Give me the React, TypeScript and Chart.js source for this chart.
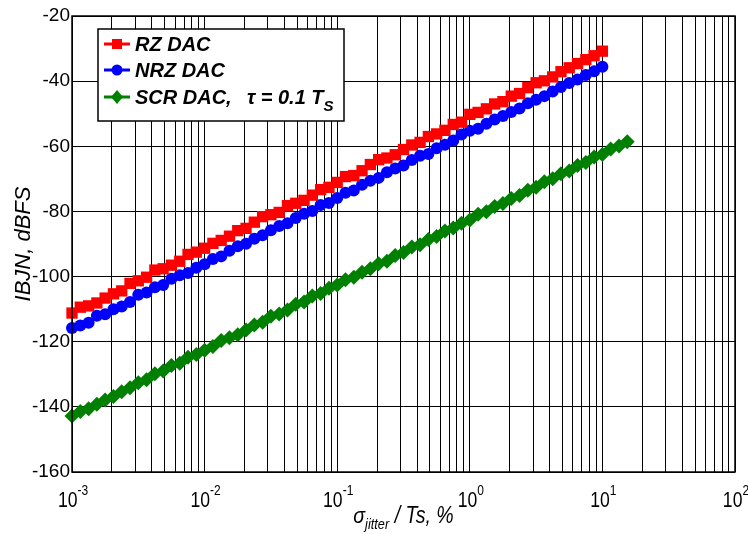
import React, { useEffect, useRef } from 'react';
import { Chart, registerables } from 'chart.js';

Chart.register(...registerables);

// sigma_jitter / Ts, % (sample grid shared by all curves)
const xGrid = [
  0.001, 0.001155, 0.001334, 0.00154, 0.001778, 0.002054, 0.002371, 0.002738,
  0.003162, 0.003652, 0.004217, 0.00487, 0.005623, 0.006494, 0.007499, 0.00866,
  0.01, 0.01155, 0.01334, 0.0154, 0.01778, 0.02054, 0.02371, 0.02738,
  0.03162, 0.03652, 0.04217, 0.0487, 0.05623, 0.06494, 0.07499, 0.0866,
  0.1, 0.1155, 0.1334, 0.154, 0.1778, 0.2054, 0.2371, 0.2738,
  0.3162, 0.3652, 0.4217, 0.487, 0.5623, 0.6494, 0.7499, 0.866,
  1, 1.155, 1.334, 1.54, 1.778, 2.054, 2.371, 2.738,
  3.162, 3.652, 4.217, 4.87, 5.623, 6.494, 7.499, 8.66,
  10, 11.55, 13.34, 15.4,
];

// IBJN, dBFS
const rzDb = [
  -111.2, -109.4, -109.0, -108.1, -106.6, -105.3, -104.4, -102.1,
  -101.3, -100.2, -98.0, -97.6, -96.5, -95.3, -93.2, -92.5,
  -91.3, -89.8, -88.9, -87.6, -85.9, -85.2, -83.3, -81.6,
  -81.0, -80.3, -78.2, -77.5, -76.6, -75.0, -73.3, -72.6,
  -71.1, -69.3, -69.0, -67.5, -65.6, -64.1, -63.6, -62.6,
  -61.0, -59.6, -58.8, -57.0, -56.2, -55.1, -53.3, -52.6,
  -50.2, -49.6, -48.5, -47.0, -46.3, -44.6, -43.8, -42.0,
  -40.5, -39.9, -38.7, -37.1, -35.9, -34.6, -33.4, -32.2,
  -30.8,
];

const nrzDb = [
  -115.8, -115.0, -114.2, -112.0, -111.6, -110.0, -109.2, -107.8,
  -105.6, -104.9, -103.3, -102.6, -100.7, -99.6, -98.9, -97.3,
  -96.2, -94.6, -93.8, -92.1, -90.7, -89.9, -88.4, -87.3,
  -85.8, -84.5, -83.6, -82.0, -80.7, -79.9, -78.0, -77.4,
  -75.9, -74.3, -73.6, -71.8, -70.6, -69.7, -68.0, -66.8,
  -65.9, -64.2, -62.9, -62.4, -60.6, -59.5, -58.2, -56.4,
  -55.2, -54.6, -53.1, -51.8, -50.7, -49.5, -48.4, -46.8,
  -45.7, -44.6, -43.2, -41.8, -40.6, -39.5, -38.1, -37.0,
  -35.6,
];

const scrDb = [
  -142.8, -141.4, -140.6, -139.2, -137.9, -136.8, -135.4, -134.1,
  -132.6, -131.7, -129.8, -129.0, -127.3, -126.6, -124.8, -123.9,
  -122.6, -121.5, -119.6, -118.8, -117.9, -116.4, -114.9, -114.0,
  -112.2, -111.5, -110.3, -108.5, -107.8, -106.0, -105.2, -103.6,
  -102.6, -101.0, -100.2, -98.7, -97.6, -96.1, -95.3, -93.5,
  -92.6, -90.9, -90.2, -88.6, -87.7, -86.0, -85.1, -83.6,
  -82.6, -80.9, -80.1, -78.5, -77.6, -76.0, -75.1, -73.5,
  -72.6, -70.9, -70.0, -68.4, -67.6, -65.9, -65.0, -63.3,
  -62.5, -60.8, -59.9, -58.6,
];

const xDecades = [-3, -2, -1, 0, 1, 2];
const xMinor = [1, 2, 3, 4, 5, 6, 7, 8, 9];
const yTicks = [-160, -140, -120, -100, -80, -60, -40, -20];
const seriesNames = ['RZ DAC', 'NRZ DAC', 'SCR DAC,'];
const seriesColors = ['#ff0000', '#0000ff', '#008000'];

const FONT = '"Liberation Sans", Arial, sans-serif';

function drawText(ctx: CanvasRenderingContext2D, s: string, x: number, y: number, font: string, sx = 1) {
  ctx.save();
  ctx.font = font;
  ctx.translate(x, y);
  ctx.scale(sx, 1);
  ctx.textAlign = 'left';
  ctx.textBaseline = 'alphabetic';
  ctx.fillText(s, 0, 0);
  ctx.restore();
}
function textW(ctx: CanvasRenderingContext2D, s: string, font: string, sx = 1) {
  ctx.save();
  ctx.font = font;
  const w = ctx.measureText(s).width * sx;
  ctx.restore();
  return w;
}

function drawMarker(ctx: CanvasRenderingContext2D, kind: number, x: number, y: number, color: string) {
  ctx.fillStyle = color;
  ctx.beginPath();
  if (kind === 0) {
    ctx.rect(x - 5, y - 5, 10, 10);
  } else if (kind === 1) {
    ctx.arc(x, y, 5.5, 0, Math.PI * 2);
  } else {
    ctx.moveTo(x, y - 7);
    ctx.lineTo(x + 6, y);
    ctx.lineTo(x, y + 7);
    ctx.lineTo(x - 6, y);
    ctx.closePath();
  }
  ctx.fill();
}

const overlay = {
  id: 'overlay',
  afterDraw(chart: any) {
    const ctx: CanvasRenderingContext2D = chart.ctx;
    const a = chart.chartArea;
    const xs = chart.scales.x;
    ctx.save();
    // axes box
    ctx.strokeStyle = '#000';
    ctx.lineWidth = 1.5;
    ctx.strokeRect(a.left, a.top, a.right - a.left, a.bottom - a.top);

    ctx.fillStyle = '#000';
    // x tick labels 10^n
    const baseFont = `22px ${FONT}`;
    const expFont = `15px ${FONT}`;
    const sx = 0.8;
    for (const e of xDecades) {
      const px = xs.getPixelForValue(Math.pow(10, e));
      const es = String(e);
      const wb = textW(ctx, '10', baseFont, sx);
      const we = textW(ctx, es, expFont, sx);
      const x0 = px - (wb + we) / 2 + 1;
      drawText(ctx, '10', x0, a.bottom + 35, baseFont, sx);
      drawText(ctx, es, x0 + wb, a.bottom + 23, expFont, sx);
    }

    // x title: sigma_jitter / Ts, %
    const tFont = `italic 23px ${FONT}`;
    const tsFont = `italic 15px ${FONT}`;
    const tsx = 0.85;
    const p1 = '\u03C3';
    const p2 = 'jitter';
    const p3 = ' / Ts, %';
    const w1 = textW(ctx, p1, tFont, tsx);
    const w2 = textW(ctx, p2, tsFont, tsx);
    const w3 = textW(ctx, p3, tFont, tsx);
    const cx = (a.left + a.right) / 2;
    let tx = cx - (w1 + w2 + w3) / 2;
    const ty = a.bottom + 51;
    drawText(ctx, p1, tx, ty, tFont, tsx);
    tx += w1;
    drawText(ctx, p2, tx, ty + 6, tsFont, tsx);
    tx += w2;
    drawText(ctx, p3, tx, ty, tFont, tsx);

    // y title
    ctx.save();
    ctx.translate(30, (a.top + a.bottom) / 2);
    ctx.rotate(-Math.PI / 2);
    ctx.font = `italic 22px ${FONT}`;
    ctx.textAlign = 'center';
    ctx.fillText('IBJN, dBFS', 0, 0);
    ctx.restore();

    // legend
    const lx = 98, ly = 29, lw = 246, lh = 92;
    ctx.fillStyle = '#fff';
    ctx.fillRect(lx, ly, lw, lh);
    ctx.strokeStyle = '#000';
    ctx.lineWidth = 1.5;
    ctx.strokeRect(lx, ly, lw, lh);
    const rows = [44, 70, 97];
    const lFont = `italic bold 20px ${FONT}`;
    const lsFont = `italic bold 15px ${FONT}`;
    for (let i = 0; i < 3; i++) {
      const ry = rows[i];
      ctx.strokeStyle = seriesColors[i];
      ctx.lineWidth = 3;
      ctx.beginPath();
      ctx.moveTo(104, ry);
      ctx.lineTo(130, ry);
      ctx.stroke();
      drawMarker(ctx, i, 117, ry, seriesColors[i]);
      ctx.fillStyle = '#000';
      drawText(ctx, seriesNames[i], 135, ry + 7, lFont);
    }
    const tauStr = '\u03C4 = 0.1 T';
    const tauX = 247;
    drawText(ctx, tauStr, tauX, rows[2] + 7, lFont);
    const tw = textW(ctx, tauStr, lFont);
    drawText(ctx, 'S', tauX + tw, rows[2] + 14, lsFont);
    ctx.restore();
  },
};

export default function App() {
  const ref = useRef<HTMLCanvasElement | null>(null);
  useEffect(() => {
    if (!ref.current) return;
    const gridTicks: number[] = [];
    for (const e of xDecades) {
      for (const m of xMinor) {
        const v = m * Math.pow(10, e);
        if (v <= 100.0001) gridTicks.push(v);
      }
    }
    const mk = (vals: number[]) => vals.map((y, i) => ({ x: xGrid[i], y }));
    const chart = new Chart(ref.current, {
      type: 'line',
      data: {
        datasets: [
          {
            label: seriesNames[0],
            data: mk(rzDb),
            borderColor: seriesColors[0],
            backgroundColor: seriesColors[0],
            borderWidth: 2.5,
            pointStyle: 'rect',
            pointRadius: 8,
            pointBorderWidth: 0,
            pointBackgroundColor: seriesColors[0],
            clip: false,
          },
          {
            label: seriesNames[1],
            data: mk(nrzDb),
            borderColor: seriesColors[1],
            backgroundColor: seriesColors[1],
            borderWidth: 2.5,
            pointStyle: 'circle',
            pointRadius: 6,
            pointBorderWidth: 0,
            pointBackgroundColor: seriesColors[1],
            clip: false,
          },
          {
            label: 'SCR DAC, \u03C4 = 0.1 Ts',
            data: mk(scrDb),
            borderColor: seriesColors[2],
            backgroundColor: seriesColors[2],
            borderWidth: 2.5,
            pointStyle: 'rectRot',
            pointRadius: 7.5,
            pointBorderWidth: 0,
            pointBackgroundColor: seriesColors[2],
            clip: false,
          },
        ],
      },
      options: {
        animation: false,
        responsive: false,
        devicePixelRatio: 1,
        layout: { padding: { top: 16, right: 13, left: 0, bottom: 0 } },
        plugins: { legend: { display: false }, tooltip: { enabled: false } },
        scales: {
          x: {
            type: 'logarithmic',
            min: 0.001,
            max: 100,
            afterBuildTicks: (s: any) => {
              s.ticks = gridTicks.map((v) => ({ value: v }));
            },
            ticks: { display: false },
            grid: { color: '#000', lineWidth: 1, drawTicks: false },
            border: { display: false },
            afterFit: (s: any) => {
              s.height = 62;
            },
          },
          y: {
            type: 'linear',
            min: -160,
            max: -20,
            afterBuildTicks: (s: any) => {
              s.ticks = yTicks.map((v) => ({ value: v }));
            },
            ticks: {
              color: '#000',
              padding: 2,
              font: { family: FONT, size: 19 },
              callback: (v: any) => String(v),
            },
            grid: { color: '#000', lineWidth: 1, drawTicks: false },
            border: { display: false },
            afterFit: (s: any) => {
              s.width = 72;
            },
          },
        },
      },
      plugins: [overlay],
    });
    return () => chart.destroy();
  }, []);
  return (
    <div style={{ position: 'absolute', left: 0, top: 0, width: 748, height: 534, background: '#fff' }}>
      <canvas ref={ref} width={748} height={534} />
    </div>
  );
}
